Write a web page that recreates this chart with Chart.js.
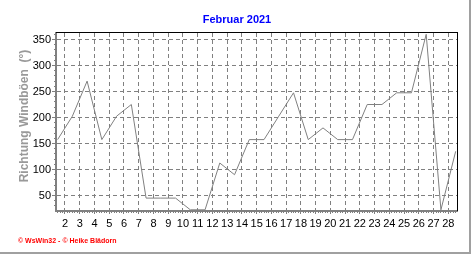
<!DOCTYPE html>
<html><head><meta charset="utf-8">
<script src="https://cdn.jsdelivr.net/npm/chart.js@4/dist/chart.umd.min.js"></script>
<style>html,body{margin:0;padding:0;background:#fff;overflow:hidden}</style>
</head><body>
<canvas id="c" width="472" height="255"></canvas>
<script>
// ---- data ----
const chartTitle = 'Februar 2021';
const yAxisTitle = 'Richtung Windböen  (°)';
const footerText = '© WsWin32 - © Heike Blädorn';
const days = [1,2,3,4,5,6,7,8,9,10,11,12,13,14,15,16,17,18,19,20,21,22,23,24,25,26,27,28];
const windDir = [157.5,202.5,270,157.5,202.5,225,45,45,45,22.5,22.5,112.5,90,157.5,157.5,202.5,247.5,157.5,180,157.5,157.5,225,225,247.5,247.5,360,22.5,135];
const xTickDays = [2,3,4,5,6,7,8,9,10,11,12,13,14,15,16,17,18,19,20,21,22,23,24,25,26,27,28];
const yTickValues = [50,100,150,200,250,300,350];

// ---- styling ----
const GRID = '#808080';
const FONT = '"Liberation Sans", Arial, sans-serif';
const X_MIN = 1.39, X_MAX = 28.59, Y_MIN = 20.2, Y_MAX = 362.5;

const points = days.map((d, i) => ({ x: d + 0.5, y: windDir[i] }));

const deco = {
  id: 'deco',
  afterDraw(chart) {
    const { ctx, chartArea: a } = chart;
    ctx.save();
    // top & right frame
    ctx.strokeStyle = '#000';
    ctx.lineWidth = 1;
    ctx.beginPath();
    ctx.moveTo(a.left, a.top - 0.5);
    ctx.lineTo(a.right + 1, a.top - 0.5);
    ctx.moveTo(a.right + 0.5, a.top - 1);
    ctx.lineTo(a.right + 0.5, a.bottom);
    ctx.stroke();
    // outer bevel
    ctx.strokeStyle = '#a0a0a0';
    ctx.lineWidth = 2;
    ctx.beginPath();
    ctx.moveTo(470, 0); ctx.lineTo(470, 254);
    ctx.moveTo(0, 253); ctx.lineTo(471, 253);
    ctx.stroke();
    // title
    ctx.fillStyle = '#0000ff';
    ctx.font = 'bold 11px ' + FONT;
    ctx.textAlign = 'center';
    ctx.textBaseline = 'alphabetic';
    ctx.fillText(chartTitle, 237, 23);
    // y-axis title
    ctx.save();
    ctx.translate(28, 116);
    ctx.rotate(-Math.PI / 2);
    ctx.fillStyle = '#999999';
    ctx.font = 'bold 12px ' + FONT;
    ctx.textAlign = 'center';
    ctx.fillText(yAxisTitle, 0, 0);
    ctx.restore();
    // footer
    ctx.fillStyle = '#ff0000';
    ctx.font = 'bold 7px ' + FONT;
    ctx.textAlign = 'left';
    ctx.fillText(footerText, 18, 243);
    ctx.restore();
  }
};

new Chart(document.getElementById('c'), {
  type: 'line',
  data: {
    datasets: [{
      data: points,
      borderColor: '#808080',
      borderWidth: 1,
      pointRadius: 0,
      tension: 0,
      fill: false
    }]
  },
  options: {
    responsive: false,
    animation: false,
    devicePixelRatio: 1,
    layout: { padding: { top: 33, right: 15, bottom: 0, left: 0 } },
    plugins: { legend: { display: false }, tooltip: { enabled: false }, title: { display: false } },
    scales: {
      x: {
        type: 'linear', position: 'bottom', weight: 1,
        min: X_MIN, max: X_MAX,
        afterBuildTicks: s => { s.ticks = xTickDays.map(v => ({ value: v })); },
        afterFit: s => { s.height = 44; },
        grid: { color: GRID, lineWidth: 1, tickLength: 3, tickColor: GRID },
        border: { display: true, color: GRID, width: 2, dash: [4, 3] },
        ticks: { color: '#000', font: { family: FONT, size: 11 }, padding: 3, maxRotation: 0, autoSkip: false }
      },
      xMinor: {
        type: 'linear', position: 'bottom', weight: 0,
        min: X_MIN, max: X_MAX,
        afterBuildTicks: s => {
          const t = [];
          for (let k = Math.ceil(X_MIN * 6); k <= Math.floor(X_MAX * 6); k++) t.push({ value: k / 6 });
          s.ticks = t;
        },
        afterFit: s => { s.height = 0; },
        grid: { drawOnChartArea: false, tickLength: 2, tickColor: GRID },
        border: { display: false },
        ticks: { display: false }
      },
      y: {
        type: 'linear', position: 'left', weight: 1,
        min: Y_MIN, max: Y_MAX,
        afterBuildTicks: s => { s.ticks = yTickValues.map(v => ({ value: v })); },
        afterFit: s => { s.width = 56; },
        grid: { color: GRID, lineWidth: 1, tickLength: 4, tickColor: GRID },
        border: { display: true, color: GRID, width: 2, dash: [4, 3] },
        ticks: { color: '#000', font: { family: FONT, size: 11 }, padding: 1 }
      },
      yMinor: {
        type: 'linear', position: 'left', weight: 0,
        min: Y_MIN, max: Y_MAX,
        afterBuildTicks: s => {
          const t = [];
          for (let v = 30; v <= 360; v += 10) t.push({ value: v });
          s.ticks = t;
        },
        afterFit: s => { s.width = 0; },
        grid: { drawOnChartArea: false, tickLength: 2, tickColor: GRID },
        border: { display: false },
        ticks: { display: false }
      }
    }
  },
  plugins: [deco]
});
</script>
</body></html>
